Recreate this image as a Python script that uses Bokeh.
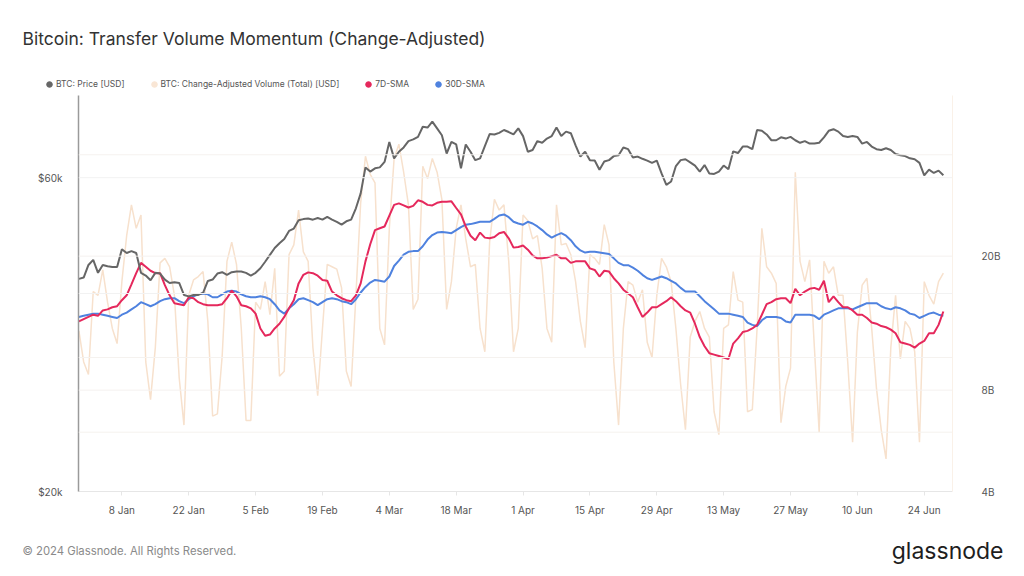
import pandas as pd
from bokeh.plotting import figure
from bokeh.layouts import column
from bokeh.models import (Range1d, LogAxis, LogScale, FixedTicker, Span, Label,
                          Legend, LegendItem)
from bokeh.embed import file_html
from bokeh.resources import INLINE

# ---------------- data ----------------
start_date = "2023-12-30"
n_days = 182

price_usd = [
    42100, 42300, 44200, 45000, 43000, 44200, 44000, 43900, 43900, 46700,
    46100, 46400, 46100, 43000, 42600, 41900, 43000, 42900, 42000, 41500,
    41600, 41500, 39800, 39600, 39800, 39800, 40100, 41800, 42000, 42900,
    43100, 42700, 43100, 43200, 43200, 43000, 42600, 43000, 43700, 44700,
    45800, 46900, 47700, 48400, 49800, 50200, 51700, 51900, 52000, 51800,
    52100, 51800, 52300, 51800, 51400, 50900, 51500, 51800, 53900, 56800,
    62200, 61300, 62000, 62200, 63400, 68000, 64200, 65700, 66700, 68200,
    68600, 69200, 71700, 71500, 73000, 71300, 69600, 65300, 68000, 67400,
    62000, 67400, 65700, 63800, 64200, 67000, 69900, 69800, 70200, 70900,
    70400, 69800, 71300, 69400, 65700, 66100, 68200, 67800, 68800, 69400,
    71500, 69400, 70500, 70100, 67200, 64600, 65700, 63800, 63700, 61700,
    63500, 63800, 64700, 64900, 66700, 66300, 64400, 64600, 64100, 63700,
    63200, 63700, 60900, 58500, 59200, 62500, 63800, 64000, 63300, 62600,
    61300, 62700, 60900, 60800, 61300, 62600, 61800, 65800, 65400, 66900,
    66900, 66300, 70900, 70700, 69800, 68400, 68400, 69100, 68800, 69200,
    68400, 67800, 68200, 67600, 67600, 67800, 69100, 70700, 71100, 70500,
    69400, 69200, 69400, 69200, 67600, 68000, 66900, 66300, 66100, 66500,
    66100, 65200, 64900, 64700, 64200, 64000, 63200, 60500, 61700, 61000,
    61500, 60500,
]

volume_bn = [
    12.0, 9.7, 8.9, 15.7, 15.3, 18.2, 14.6, 12.2, 11.0, 16.8,
    23.0, 28.4, 24.2, 26.5, 9.7, 7.5, 10.7, 19.1, 19.7, 18.6,
    15.3, 8.7, 6.3, 15.3, 17.0, 17.4, 18.0, 12.8, 6.7, 6.8,
    10.1, 19.3, 22.0, 18.9, 12.2, 6.5, 6.5, 14.6, 13.9, 16.8,
    13.4, 18.4, 8.8, 9.1, 20.2, 21.6, 27.4, 20.6, 19.3, 10.7,
    7.7, 12.2, 18.9, 18.6, 18.3, 16.1, 9.1, 8.2, 15.3, 28.8,
    39.6, 35.0, 33.0, 12.2, 10.9, 24.2, 39.0, 43.0, 35.5, 28.4,
    13.9, 14.9, 37.0, 34.0, 39.0, 35.5, 29.5, 13.9, 16.8, 24.2,
    28.4, 22.5, 18.6, 18.9, 12.2, 10.4, 22.0, 29.5, 27.4, 28.4,
    19.3, 10.4, 12.2, 26.5, 25.5, 22.5, 23.0, 18.4, 12.2, 11.1,
    28.4, 21.6, 21.8, 20.2, 16.8, 12.8, 10.7, 20.2, 19.7, 18.9,
    24.8, 21.6, 9.7, 6.3, 12.2, 16.8, 16.4, 14.6, 15.9, 11.1,
    10.0, 15.3, 19.7, 18.6, 16.8, 12.2, 8.3, 6.1, 11.5, 12.8,
    13.7, 12.2, 11.5, 6.9, 5.9, 12.2, 12.5, 18.0, 14.8, 14.6,
    6.9, 7.0, 12.2, 24.2, 18.6, 17.8, 16.6, 6.4, 8.2, 9.3,
    35.5, 19.3, 16.8, 19.5, 10.7, 6.0, 19.3, 17.8, 18.6, 15.3,
    15.3, 9.6, 5.6, 11.9, 16.4, 17.2, 12.2, 8.1, 6.1, 5.0,
    10.7, 15.3, 9.9, 12.8, 12.2, 10.4, 5.6, 16.8, 15.3, 14.4,
    16.8, 17.8,
]

sma7_bn = [
    12.8, 13.0, 13.2, 13.4, 13.3, 13.8, 13.9, 14.1, 14.2, 14.8,
    15.3, 16.5, 17.8, 19.1, 18.6, 18.1, 17.8, 17.8, 16.4, 15.3,
    14.5, 14.4, 14.3, 15.1, 15.0, 14.6, 14.4, 14.3, 14.3, 14.3,
    14.4, 15.0, 15.8, 15.2, 14.3, 14.2, 14.0, 13.5, 12.2, 11.6,
    11.7, 12.2, 12.6, 13.2, 14.0, 14.8, 16.6, 17.6, 17.9, 17.8,
    17.5, 17.0, 16.9, 15.7, 15.3, 15.0, 14.8, 14.7, 15.3, 16.6,
    19.3, 21.7, 23.9, 24.2, 24.5, 26.4, 28.4, 28.7, 28.3, 27.9,
    28.2, 29.3, 29.0, 28.4, 28.3, 28.8, 29.0, 29.0, 29.1, 27.8,
    26.6, 24.5, 23.0, 22.3, 23.5, 22.7, 22.6, 22.8, 23.4, 23.6,
    22.6, 21.2, 21.3, 21.5, 20.9, 20.1, 19.7, 19.7, 19.8, 20.0,
    20.2, 19.7, 19.7, 19.1, 19.3, 19.3, 19.3, 18.4, 18.2, 17.4,
    18.1, 18.0, 17.2, 16.6, 15.9, 15.5, 15.1, 14.1, 13.2, 13.6,
    14.1, 14.1, 14.4, 14.7, 15.1, 14.7, 14.2, 13.8, 13.6, 12.6,
    11.5, 10.8, 10.3, 10.2, 10.1, 10.0, 9.9, 11.0, 11.4, 11.9,
    12.0, 12.2, 12.5, 13.4, 14.4, 14.6, 14.9, 15.0, 15.0, 14.5,
    16.0, 15.3, 15.7, 16.0, 16.1, 15.9, 16.9, 14.6, 15.2, 14.6,
    14.1, 14.1, 13.8, 13.4, 13.4, 13.1, 12.7, 12.6, 12.4, 12.3,
    12.1, 11.8, 11.1, 11.0, 10.9, 10.7, 11.0, 11.2, 11.8, 11.8,
    12.5, 13.7,
]

sma30_bn = [
    13.2, 13.3, 13.4, 13.5, 13.5, 13.4, 13.3, 13.2, 13.1, 13.4,
    13.6, 13.9, 14.2, 14.6, 14.4, 14.2, 14.4, 14.7, 14.9, 15.0,
    15.0, 14.7, 14.5, 14.9, 15.2, 15.4, 15.5, 15.4, 15.1, 15.1,
    15.4, 15.7, 15.8, 15.7, 15.4, 15.2, 15.1, 15.1, 15.2, 15.1,
    14.9, 14.4, 13.8, 13.5, 14.0, 14.4, 14.9, 15.0, 14.8, 14.6,
    14.3, 14.6, 14.9, 15.0, 14.9, 14.7, 14.6, 14.4, 14.9, 15.6,
    16.2, 16.7, 17.0, 16.9, 16.8, 17.4, 18.7, 19.4, 20.2, 20.6,
    20.7, 20.7, 21.4, 22.4, 23.1, 23.5, 23.6, 23.5, 23.4, 23.9,
    24.4, 24.8, 24.9, 25.1, 25.3, 25.3, 25.3, 25.8, 26.4, 26.6,
    26.1, 25.3, 25.0, 24.8, 25.3, 25.0, 24.5, 23.9, 23.2, 22.7,
    23.1, 23.4, 23.0, 22.3, 21.4, 20.8, 20.5, 20.6, 20.6, 20.5,
    20.4, 20.3, 19.7, 19.1, 18.8, 18.8, 18.5, 18.1, 17.6, 17.2,
    17.0, 17.2, 17.4, 17.2, 16.9, 16.6, 16.1, 15.7, 15.7, 15.7,
    15.2, 14.7, 14.3, 13.9, 13.5, 13.5, 13.5, 13.4, 13.3, 13.2,
    12.7, 12.5, 12.4, 12.9, 13.2, 13.2, 13.2, 13.1, 12.8, 12.7,
    13.4, 13.4, 13.4, 13.4, 13.3, 13.0, 13.4, 13.6, 13.8, 14.0,
    14.0, 14.0, 13.9, 14.1, 14.3, 14.5, 14.5, 14.5, 14.2, 14.0,
    13.9, 14.1, 14.0, 13.8, 13.5, 13.4, 13.1, 13.3, 13.5, 13.6,
    13.4, 13.3,
]

x_tick_dates = ["2024-01-08", "2024-01-22", "2024-02-05", "2024-02-19", "2024-03-04",
                "2024-03-18", "2024-04-01", "2024-04-15", "2024-04-29", "2024-05-13",
                "2024-05-27", "2024-06-10", "2024-06-24"]
x_tick_labels = ["8 Jan", "22 Jan", "5 Feb", "19 Feb", "4 Mar", "18 Mar", "1 Apr",
                 "15 Apr", "29 Apr", "13 May", "27 May", "10 Jun", "24 Jun"]
price_ticks = [20000, 60000]
price_tick_labels = ["$20k", "$60k"]
vol_ticks = [4, 8, 20]
vol_tick_labels = ["4B", "8B", "20B"]
price_grid = [40000, 60000]
vol_grid = [6, 8, 10, 20, 40]

title_text = "Bitcoin: Transfer Volume Momentum (Change-Adjusted)"
legend_labels = ["BTC: Price [USD]", "BTC: Change-Adjusted Volume (Total) [USD]",
                 "7D-SMA", "30D-SMA"]
footer_text = "© 2024 Glassnode. All Rights Reserved."
brand_text = "glassnode"

# ---------------- styling ----------------
FONT = "Inter"
C_PRICE = "#666666"
C_VOL = "#f7e1cd"
C_VOL_DOT = "#f9e6d5"
C_SMA7 = "#e5285c"
C_SMA30 = "#4f82df"
W = 1016
HEAD_H = 95
MAIN_H = 396 + 35
FOOT_H = 568 - HEAD_H - MAIN_H


def blank(height):
    f = figure(width=W, height=height, x_range=Range1d(0, W), y_range=Range1d(0, height),
               output_backend="svg", toolbar_location=None, title=None,
               x_axis_location=None, y_axis_location=None,
               min_border_left=0, min_border_right=0, min_border_top=0, min_border_bottom=0)
    f.frame_align = False
    f.outline_line_color = None
    f.xgrid.visible = False
    f.ygrid.visible = False
    f.background_fill_color = "white"
    f.border_fill_color = "white"
    return f


# ---------------- header: title + legend ----------------
head = blank(HEAD_H)
head.add_layout(Label(x=22, y=HEAD_H - 38, text=title_text, text_font=FONT,
                      text_font_size="17.5px", text_color="#333333", text_baseline="middle"))
markers = []
for c in [C_PRICE, C_VOL_DOT, C_SMA7, C_SMA30]:
    # a single point placed outside the visible header range: only its legend dot shows
    markers.append(head.scatter(x=[-500], y=[-500], marker="circle", fill_color=c, line_color=c))
legend = Legend(items=[LegendItem(label=l, renderers=[r]) for l, r in zip(legend_labels, markers)],
                orientation="horizontal", location=(42, HEAD_H - 91),
                label_text_font=FONT, label_text_font_size="8.5px",
                label_text_color="#555555", glyph_width=14, glyph_height=14,
                label_height=14, label_standoff=0, spacing=22, padding=0, margin=0,
                border_line_color=None, background_fill_alpha=0)
head.add_layout(legend, "center")

# ---------------- main chart ----------------
dates = pd.date_range(start_date, periods=n_days, freq="D")
x_start = pd.Timestamp(start_date) - pd.Timedelta(hours=2)
x_end = x_start + pd.Timedelta(days=183)

p = figure(width=W, height=MAIN_H, x_axis_type="datetime", y_axis_type="log",
           x_range=Range1d(x_start, x_end), y_range=Range1d(20000, 80000),
           output_backend="svg", toolbar_location=None, title=None,
           min_border_left=78, min_border_right=W - 78 - 874, min_border_top=0,
           min_border_bottom=35)
p.frame_align = False
p.outline_line_color = None
p.background_fill_color = "white"
p.border_fill_color = "white"
p.xgrid.visible = False
p.ygrid.visible = False

p.extra_y_ranges = {"vol": Range1d(4, 60)}
p.extra_y_scales = {"vol": LogScale()}

for v in price_grid:
    p.add_layout(Span(location=v, dimension="width", line_color="#f2f2f2", line_width=1))
for v in vol_grid:
    p.add_layout(Span(location=v, dimension="width", line_color="#f5f2ef", line_width=1,
                      y_range_name="vol"))

p.line(dates, volume_bn, y_range_name="vol", line_color=C_VOL, line_width=1.5)
p.line(dates, sma30_bn, y_range_name="vol", line_color=C_SMA30, line_width=2)
p.line(dates, sma7_bn, y_range_name="vol", line_color=C_SMA7, line_width=2)
p.line(dates, price_usd, line_color=C_PRICE, line_width=2)

xa = p.xaxis[0]
tick_ms = [float(pd.Timestamp(t).value // 10**6) for t in x_tick_dates]
xa.ticker = FixedTicker(ticks=tick_ms)
xa.major_label_overrides = {t: l for t, l in zip(tick_ms, x_tick_labels)}
xa.axis_line_color = "#e6e6e6"
xa.major_tick_line_color = "#e6e6e6"
xa.major_tick_out = 4
xa.major_tick_in = 0
xa.minor_tick_line_color = None
xa.major_label_text_font = FONT
xa.major_label_text_font_size = "10px"
xa.major_label_text_color = "#555555"
xa.major_label_standoff = 8

ya = p.yaxis[0]
ya.ticker = FixedTicker(ticks=price_ticks)
ya.major_label_overrides = {float(t): l for t, l in zip(price_ticks, price_tick_labels)}
ya.axis_line_color = "#9a9a9a"
ya.axis_line_width = 1.5
ya.major_tick_line_color = None
ya.minor_tick_line_color = None
ya.major_label_text_font = FONT
ya.major_label_text_font_size = "10px"
ya.major_label_text_color = "#555555"
ya.major_label_standoff = 10

ra = LogAxis(y_range_name="vol")
ra.ticker = FixedTicker(ticks=vol_ticks)
ra.major_label_overrides = {float(t): l for t, l in zip(vol_ticks, vol_tick_labels)}
ra.axis_line_color = "#faf1e8"
ra.major_tick_line_color = None
ra.minor_tick_line_color = None
ra.major_label_text_font = FONT
ra.major_label_text_font_size = "10px"
ra.major_label_text_color = "#555555"
ra.major_label_standoff = 23
p.add_layout(ra, "right")

# ---------------- footer ----------------
foot = blank(FOOT_H)
foot_y = FOOT_H - (550 - HEAD_H - MAIN_H)
foot.add_layout(Label(x=22, y=foot_y, text=footer_text, text_font=FONT,
                      text_font_size="11.3px", text_color="#8a8a8a", text_baseline="middle"))
foot.add_layout(Label(x=1003, y=foot_y, text=brand_text, text_font=FONT,
                      text_font_size="23px", text_color="#1e1e1e", text_baseline="middle",
                      text_align="right"))

layout = column(head, p, foot, spacing=0)
open("out.html", "w").write(file_html(layout, INLINE))
